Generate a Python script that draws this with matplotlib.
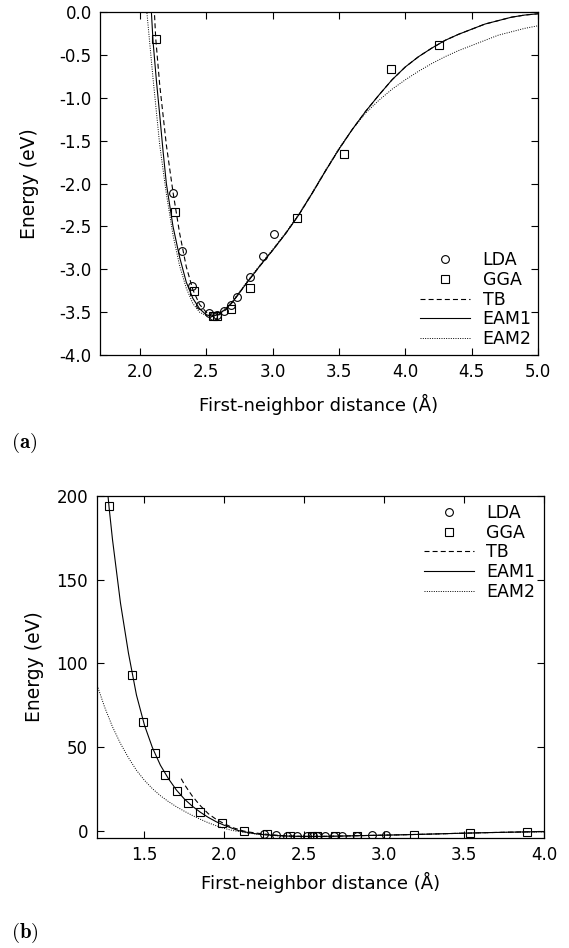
import matplotlib
matplotlib.use('Agg')
import matplotlib.pyplot as plt

plt.rcParams['axes.unicode_minus'] = False
plt.rcParams['mathtext.fontset'] = 'cm'
plt.rcParams['font.family'] = ['DejaVu Sans']

# LDA points (A, eV)
lda_r = [2.25, 2.32, 2.39, 2.453, 2.518, 2.552, 2.58, 2.631, 2.684, 2.733, 2.83, 2.926, 3.009]
lda_e = [-2.11, -2.79, -3.20, -3.42, -3.51, -3.54, -3.53, -3.49, -3.42, -3.32, -3.09, -2.84, -2.59]

# GGA points
gga_r = [1.281, 1.421, 1.489, 1.563, 1.631, 1.704, 1.774, 1.846, 1.986, 2.125, 2.268,
         2.41, 2.55, 2.578, 2.69, 2.83, 3.185, 3.538, 3.894, 4.253]
gga_e = [194, 93, 65, 46.6, 33.3, 23.8, 16.5, 11.1, 4.3, -0.31, -2.33,
         -3.25, -3.54, -3.54, -3.46, -3.22, -2.40, -1.66, -0.67, -0.38]

# TB curve
tb_r = [1.73, 1.75, 1.80, 1.85, 1.90, 1.95, 2.00, 2.05, 2.10, 2.12, 2.15, 2.20, 2.25,
        2.30, 2.35, 2.40, 2.45, 2.50, 2.55, 2.60, 2.65, 2.70, 2.80, 2.90, 3.00, 3.10,
        3.20, 3.30, 3.40, 3.50, 3.60, 3.70, 3.80, 3.90, 4.00, 4.10, 4.20, 4.30, 4.40,
        4.50, 4.60, 4.70, 4.80, 4.90, 5.00]
tb_e = [31, 27.5, 20.5, 14.8, 10.0, 6.6, 4.0, 1.8, 0.3, -0.31, -0.85, -1.55, -2.10,
        -2.58, -2.97, -3.24, -3.41, -3.50, -3.54, -3.53, -3.47, -3.38, -3.17, -2.97, -2.78, -2.58,
        -2.36, -2.11, -1.85, -1.60, -1.37, -1.16, -0.97, -0.79, -0.64, -0.52, -0.42, -0.33, -0.26,
        -0.20, -0.14, -0.10, -0.06, -0.035, -0.02]

# EAM1 curve
eam1_r = [1.26, 1.28, 1.30, 1.35, 1.40, 1.45, 1.50, 1.55, 1.60, 1.65, 1.70, 1.75, 1.80,
          1.85, 1.90, 1.95, 2.00, 2.05, 2.08, 2.10, 2.125, 2.15, 2.175, 2.20, 2.25, 2.30,
          2.35, 2.40, 2.45, 2.50, 2.55, 2.60, 2.65, 2.70, 2.80, 2.90, 3.00, 3.10, 3.20,
          3.30, 3.40, 3.50, 3.60, 3.70, 3.80, 3.90, 4.00, 4.10, 4.20, 4.30, 4.40, 4.50,
          4.60, 4.70, 4.80, 4.90, 5.00]
eam1_e = [212, 192, 174, 136, 106, 81, 63, 49.5, 39, 31, 24.2, 18.8, 14.5,
          10.9, 7.8, 5.2, 3.1, 1.3, 0.2, -0.35, -0.8, -1.2, -1.62, -2.0, -2.5, -2.86,
          -3.15, -3.34, -3.46, -3.53, -3.55, -3.52, -3.46, -3.38, -3.17, -2.97, -2.78, -2.58, -2.36,
          -2.11, -1.85, -1.60, -1.37, -1.16, -0.97, -0.79, -0.64, -0.52, -0.42, -0.33, -0.26, -0.20,
          -0.14, -0.10, -0.06, -0.035, -0.02]

# EAM2 curve
eam2_r = [1.20, 1.25, 1.30, 1.35, 1.40, 1.45, 1.50, 1.55, 1.60, 1.65, 1.70, 1.75, 1.80,
          1.85, 1.90, 1.95, 2.00, 2.05, 2.10, 2.15, 2.20, 2.25, 2.30, 2.35, 2.40, 2.45,
          2.50, 2.55, 2.60, 2.65, 2.70, 2.80, 2.90, 3.00, 3.10, 3.20, 3.30, 3.40, 3.50,
          3.60, 3.70, 3.80, 3.90, 4.00, 4.10, 4.20, 4.30, 4.40, 4.50, 4.60, 4.70, 4.80,
          4.90, 5.00]
eam2_e = [88, 74, 62, 52, 43.5, 36, 30, 25, 20.8, 17.3, 14.2, 11.5, 9.0,
          6.7, 4.6, 2.8, 1.2, 0.05, -0.78, -1.55, -2.12, -2.6, -2.96, -3.22, -3.40, -3.50,
          -3.54, -3.54, -3.51, -3.45, -3.37, -3.16, -2.96, -2.77, -2.57, -2.35, -2.10, -1.84, -1.59,
          -1.37, -1.18, -1.03, -0.90, -0.79, -0.69, -0.60, -0.52, -0.45, -0.39, -0.33, -0.27, -0.23,
          -0.19, -0.16]

fig = plt.figure(figsize=(5.69, 9.48), dpi=100)
ax1 = fig.add_axes([0.1757, 0.6255, 0.770, 0.3618])
ax2 = fig.add_axes([0.1696, 0.116, 0.7865, 0.3608])


def draw(ax):
    ax.plot(lda_r, lda_e, 'o', ms=5.6, mfc='none', mec='k', mew=0.8, label='LDA')
    ax.plot(gga_r, gga_e, 's', ms=5.6, mfc='none', mec='k', mew=0.8, label='GGA')
    ax.plot(tb_r, tb_e, color='k', lw=0.8, ls=(0, (4.5, 2.8)), label='TB')
    ax.plot(eam1_r, eam1_e, color='k', lw=0.8, label='EAM1')
    ax.plot(eam2_r, eam2_e, color='k', lw=0.7, ls=(0, (1, 1.4)), label='EAM2')
    ax.tick_params(direction='in', top=True, right=True, length=5, width=0.8,
                   labelsize=12, pad=6)
    for s in ax.spines.values():
        s.set_linewidth(0.9)
    ax.set_xlabel('First-neighbor distance (Å)', fontsize=13)
    ax.set_ylabel('Energy (eV)', fontsize=13.5)


draw(ax1)
ax1.set_xlim(1.7, 5.0)
ax1.set_ylim(-4.0, 0.0)
ax1.set_xticks([2.0, 2.5, 3.0, 3.5, 4.0, 4.5, 5.0])
ax1.set_yticks([0.0, -0.5, -1.0, -1.5, -2.0, -2.5, -3.0, -3.5, -4.0])
ax1.yaxis.set_major_formatter(matplotlib.ticker.FormatStrFormatter('%.1f'))
ax1.xaxis.set_major_formatter(matplotlib.ticker.FormatStrFormatter('%.1f'))
ax1.yaxis.set_label_coords(-0.14, 0.5)
ax1.xaxis.set_label_coords(0.5, -0.114)
ax1.legend(loc='lower right', bbox_to_anchor=(0.985, 0.02), frameon=False,
           fontsize=12.5, numpoints=1, handlelength=2.9, handletextpad=0.7,
           labelspacing=0.1, borderpad=0, borderaxespad=0)

draw(ax2)
ax2.set_xlim(1.2, 4.0)
ax2.set_ylim(-4.5, 200)
ax2.set_xticks([1.5, 2.0, 2.5, 3.0, 3.5, 4.0])
ax2.set_yticks([0, 50, 100, 150, 200])
ax2.xaxis.set_major_formatter(matplotlib.ticker.FormatStrFormatter('%.1f'))
ax2.yaxis.set_label_coords(-0.118, 0.5)
ax2.xaxis.set_label_coords(0.5, -0.1)
ax2.legend(loc='upper right', bbox_to_anchor=(0.98, 0.977), frameon=False,
           fontsize=12.5, numpoints=1, handlelength=2.9, handletextpad=0.7,
           labelspacing=0.1, borderpad=0, borderaxespad=0)

fig.text(0.019, 1 - 443 / 948, r'$\mathbf{(a)}$', fontsize=15, va='center', ha='left')
fig.text(0.019, 1 - 933 / 948, r'$\mathbf{(b)}$', fontsize=15, va='center', ha='left')

fig.savefig('out.png', dpi=100)
